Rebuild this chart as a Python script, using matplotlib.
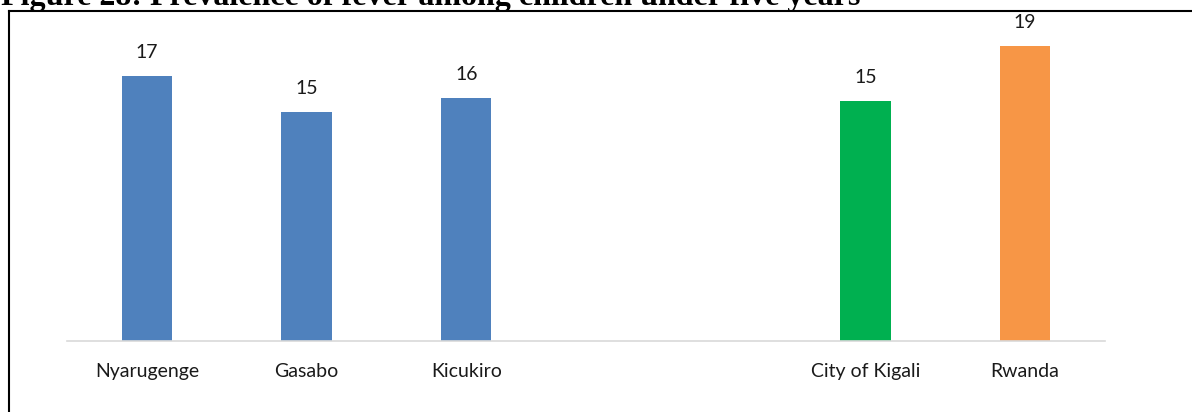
import matplotlib.pyplot as plt
from matplotlib.lines import Line2D

# donnees (prevalence de la fievre, %)
districts = ["Nyarugenge", "Gasabo", "Kicukiro", "City of Kigali", "Rwanda"]
valeurs = [17.0, 14.7, 15.6, 15.4, 18.9]
positions = [0, 1, 2, 4.5, 5.5]
couleurs = ["#4f81bd", "#4f81bd", "#4f81bd", "#00b050", "#f79646"]

W, H = 1192, 412
fig = plt.figure(figsize=(W / 100, H / 100), dpi=100)
ax = fig.add_axes([67 / W, (H - 341) / H, (1105 - 67) / W, (341 - 29) / H])

ax.bar(positions, valeurs, width=0.315, color=couleurs, zorder=2)
for x, v in zip(positions, valeurs):
    ax.annotate(f"{v:.0f}", (x, v), xytext=(0, 13), textcoords="offset points",
                ha="center", va="baseline", fontsize=14, family="Lato", color="#1a1a1a")

ax.set_xlim(-0.5, 6.0)
ax.set_ylim(0, 20)
ax.set_xticks(positions)
ax.set_xticklabels(districts, fontsize=14, family="Lato", color="#1a1a1a")
ax.tick_params(axis="x", length=0, pad=16)
ax.set_yticks([])
for s in ["top", "right", "left"]:
    ax.spines[s].set_visible(False)
ax.spines["bottom"].set_color("#d9d9d9")
ax.spines["bottom"].set_linewidth(1.2)

# cadre autour de la figure
fig.add_artist(Line2D([9 / W, 9 / W], [0, 1 - 11 / H], transform=fig.transFigure,
                      color="black", lw=1.5))
fig.add_artist(Line2D([9 / W, 1], [1 - 11 / H, 1 - 11 / H], transform=fig.transFigure,
                      color="black", lw=1.5))

# titre (coupe en haut comme dans l'original)
fig.text(1 / W, 1 - 5 / H, "Figure 28: Prevalence of fever among children under five years",
         fontsize=23, fontweight="bold", family="Liberation Serif", va="baseline", ha="left")

fig.savefig("out.png", dpi=100)
